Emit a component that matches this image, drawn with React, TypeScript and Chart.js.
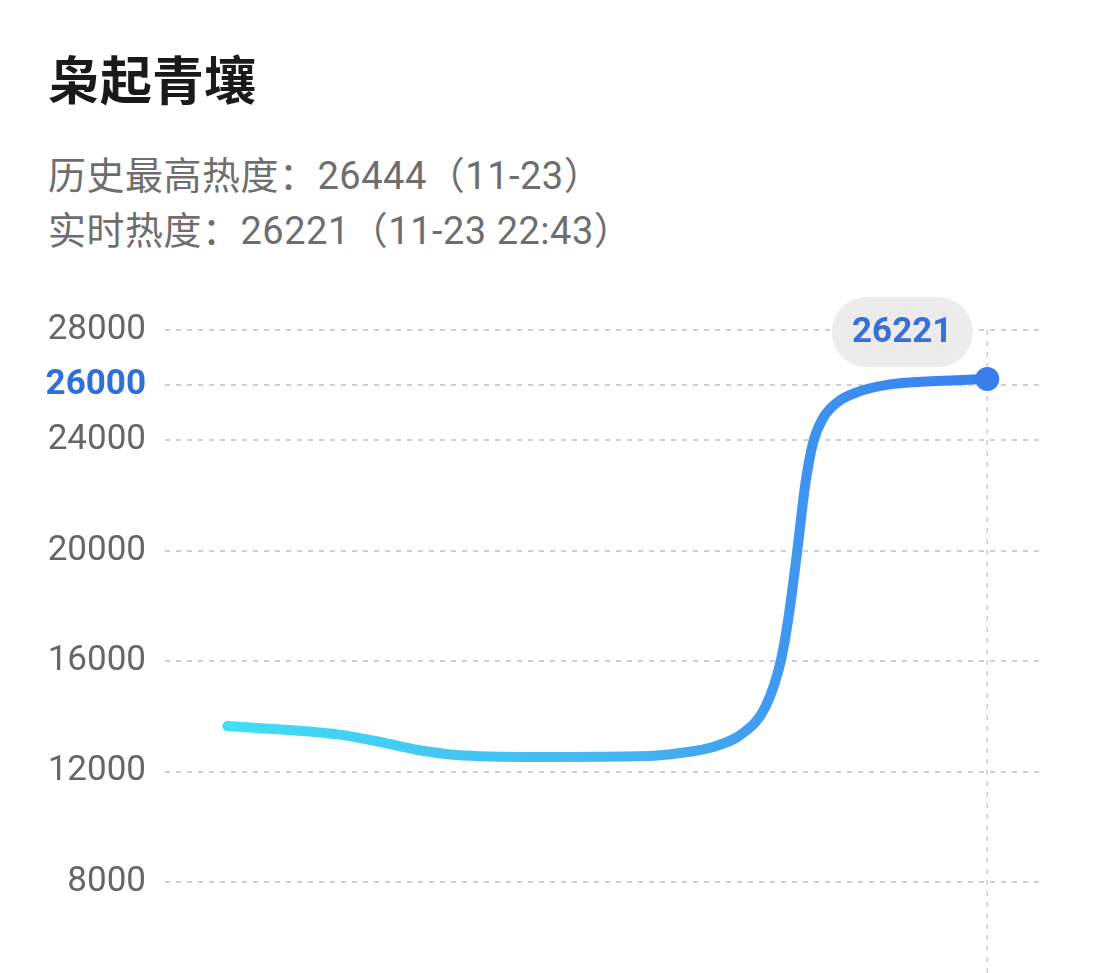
import React, { useEffect, useRef } from "react";
import { Chart, registerables } from "chart.js";

Chart.register(...registerables);

const titleText = "枭起青壤";
const subtitleLines = ["历史最高热度：26444（11-23）", "实时热度：26221（11-23 22:43）"];

// x positions (relative time, 0..100) and heat values
const times = [0, 15, 20.1, 25.1, 30.1, 40.3, 55.3, 59.6, 63.9, 67.9, 70.8, 72.8, 73.8, 75.0, 76.05, 77.1, 78.4, 80.3, 82.9, 86.8, 90.8, 100];
const values = [13650, 13330, 13070, 12780, 12600, 12530, 12565, 12674, 12890, 13400, 14340, 15970, 17500, 20000, 22400, 23940, 24810, 25390, 25750, 26010, 26115, 26221];
const tickValues = [8000, 12000, 16000, 20000, 24000, 26000, 28000];
const highlightTick = 26000;
const currentLabel = "26221";

const FONT = "'Noto Sans CJK SC', 'Noto Sans', sans-serif";
const NUM_FONT = "Roboto, 'Noto Sans CJK SC', sans-serif";
const BLUE = "#2f6fdc";
const GRAY_TEXT = "#666666";
const GRID = "#cfcfcf";

const markerPlugin = {
  id: "marker",
  beforeDatasetsDraw(chart: any) {
    const meta = chart.getDatasetMeta(0);
    const pt = meta.data[meta.data.length - 1];
    if (!pt) return;
    const { ctx, chartArea } = chart;
    ctx.save();
    ctx.strokeStyle = GRID;
    ctx.lineWidth = 1.5;
    ctx.setLineDash([5, 6]);
    ctx.beginPath();
    ctx.moveTo(pt.x, chartArea.top);
    ctx.lineTo(pt.x, chart.height);
    ctx.stroke();
    ctx.restore();
  },
  afterDatasetsDraw(chart: any) {
    const meta = chart.getDatasetMeta(0);
    const pt = meta.data[meta.data.length - 1];
    if (!pt) return;
    const { ctx } = chart;
    const w = 141;
    const h = 70;
    const cx = pt.x - 85;
    const cy = pt.y - 47;
    ctx.save();
    ctx.fillStyle = "#ececec";
    ctx.beginPath();
    const r = h / 2;
    const x0 = cx - w / 2;
    const y0 = cy - h / 2;
    ctx.moveTo(x0 + r, y0);
    ctx.lineTo(x0 + w - r, y0);
    ctx.arc(x0 + w - r, cy, r, -Math.PI / 2, Math.PI / 2);
    ctx.lineTo(x0 + r, y0 + h);
    ctx.arc(x0 + r, cy, r, Math.PI / 2, (3 * Math.PI) / 2);
    ctx.closePath();
    ctx.fill();
    ctx.fillStyle = "#3a6fd8";
    ctx.font = `bold 35px ${NUM_FONT}`;
    ctx.textAlign = "center";
    ctx.textBaseline = "middle";
    ctx.fillText(currentLabel, cx, cy + 1);
    ctx.restore();
  },
};

export default function App() {
  const ref = useRef<HTMLCanvasElement>(null);

  useEffect(() => {
    document.body.style.margin = "0";
    const canvas = ref.current;
    if (!canvas) return;
    const chart = new Chart(canvas, {
      type: "line",
      data: {
        datasets: [
          {
            data: times.map((t, i) => ({ x: t, y: values[i] })),
            borderWidth: 10,
            borderCapStyle: "round",
            borderJoinStyle: "round",
            cubicInterpolationMode: "monotone",
            fill: false,
            borderColor: (c: any) => {
              const ch = c.chart;
              const xs = ch.scales?.x;
              if (!ch.chartArea || !xs) return "#3a9be8";
              const g = ch.ctx.createLinearGradient(xs.getPixelForValue(times[0]), 0, xs.getPixelForValue(times[times.length - 1]), 0);
              g.addColorStop(0, "#40def5");
              g.addColorStop(0.55, "#45b2f0");
              g.addColorStop(0.8, "#3d8ff0");
              g.addColorStop(1, "#3a80ec");
              return g;
            },
            pointRadius: (c: any) => (c.dataIndex === times.length - 1 ? 12 : 0),
            pointHoverRadius: (c: any) => (c.dataIndex === times.length - 1 ? 12 : 0),
            pointBackgroundColor: "#3a7eec",
            pointBorderWidth: 0,
          } as any,
        ],
      },
      options: {
        animation: false,
        responsive: false,
        devicePixelRatio: 1,
        events: [],
        layout: { padding: { top: 330, bottom: 0, left: 0, right: 49 } },
        plugins: { legend: { display: false }, tooltip: { enabled: false } },
        scales: {
          x: {
            type: "linear",
            display: false,
            min: -8.2,
            max: 107.6,
          },
          y: {
            min: 6150,
            max: 28000,
            afterBuildTicks: (scale: any) => {
              scale.ticks = tickValues.map((v) => ({ value: v }));
            },
            afterFit: (scale: any) => {
              scale.width = 165;
            },
            grid: { color: GRID, lineWidth: 2, drawTicks: false },
            border: { display: false, dash: [5, 6] },
            ticks: {
              padding: 19,
              color: (c: any) => (c.tick && c.tick.value === highlightTick ? BLUE : GRAY_TEXT),
              font: (c: any) => ({
                family: NUM_FONT,
                size: 35,
                weight: c.tick && c.tick.value === highlightTick ? "bold" : "normal",
              }),
              callback: (v: any) => String(v),
            },
          },
        },
      } as any,
      plugins: [markerPlugin],
    });
    return () => chart.destroy();
  }, []);

  const sub: React.CSSProperties = {
    position: "absolute",
    left: 48,
    fontSize: 38,
    lineHeight: "38px",
    letterSpacing: "0.5px",
    color: "#6e6e6e",
    whiteSpace: "nowrap",
    fontFamily: NUM_FONT,
  };

  return (
    <div style={{ position: "relative", width: 1094, height: 973, overflow: "hidden", background: "#ffffff", fontFamily: FONT }}>
      <div style={{ position: "absolute", left: 48, top: 52, fontSize: 52, lineHeight: "52px", fontWeight: 700, color: "#1a1a1a", whiteSpace: "nowrap" }}>
        {titleText}
      </div>
      <div style={{ ...sub, top: 157 }}>{subtitleLines[0]}</div>
      <div style={{ ...sub, top: 212 }}>{subtitleLines[1]}</div>
      <canvas ref={ref} width={1094} height={973} style={{ position: "absolute", left: 0, top: 0, display: "block" }} />
    </div>
  );
}
